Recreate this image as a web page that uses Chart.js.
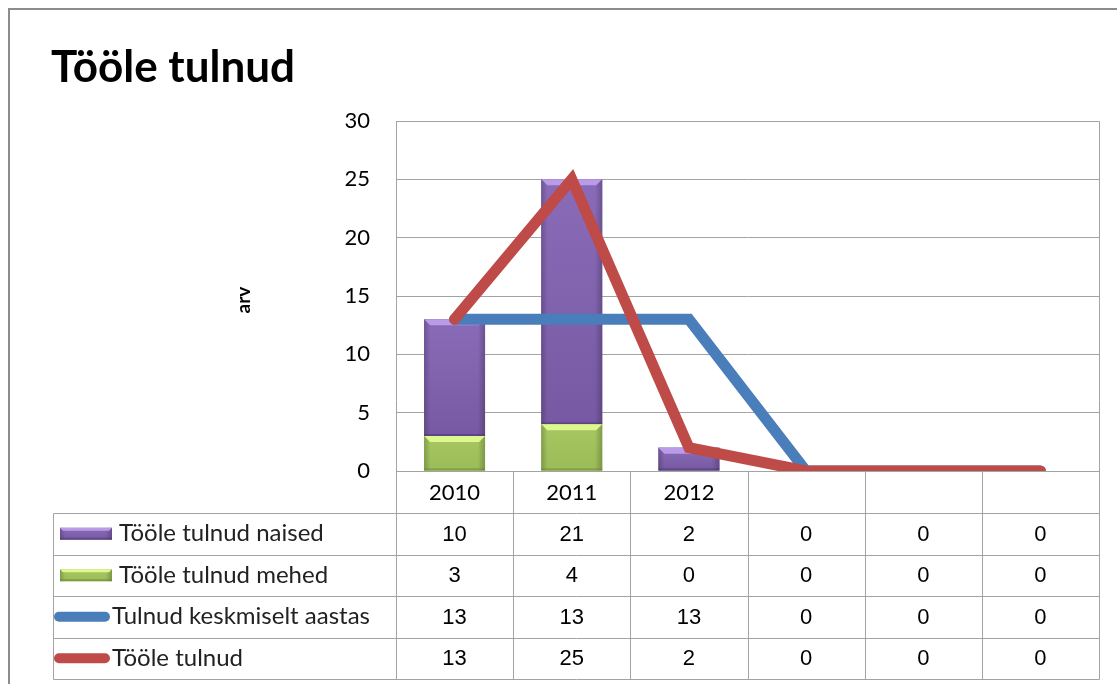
<!DOCTYPE html>
<html lang="et">
  <head>
    <meta charset="UTF-8" />
    <title>Tööle tulnud</title>
    <style>
      html, body { margin: 0; padding: 0; background: #fff; }
    </style>
  </head>
  <body>
    <canvas id="myChart" width="1117" height="684"></canvas>

    <script src="https://cdn.jsdelivr.net/npm/chart.js"></script>

    <script>
      // data
      const years = ["2010", "2011", "2012", "", "", ""];
      const naised = [10, 21, 2, 0, 0, 0];
      const mehed = [3, 4, 0, 0, 0, 0];
      const keskmiselt = [13, 13, 13, 0, 0, 0];
      const tulnud = [13, 25, 2, 0, 0, 0];
      const yMax = 30;
      const yStep = 5;

      const FONT = "Lato, 'Open Sans', sans-serif";
      const gridColor = "#a3a3a3";

      const lookNaised = { fill: "#7659a2", top: "#8a6bb8", light: "#b99be8", dark: "#4f3a70" };
      const lookMehed = { fill: "#9bbb59", top: "#a6c760", light: "#dcf88e", dark: "#6a8a33" };

      // rows of the data table, in the order shown
      const tableRows = [
        { label: "Tööle tulnud naised", values: naised, key: "bar", look: lookNaised },
        { label: "Tööle tulnud mehed", values: mehed, key: "bar", look: lookMehed },
        { label: "Tulnud keskmiselt aastas", values: keskmiselt, key: "line", color: "#4a7ebb" },
        { label: "Tööle tulnud", values: tulnud, key: "line", color: "#be4b48" },
      ];

      // draws a bar with a little excel style bevel
      function bevelBar(ctx, x1, x2, y1, y2, c, bev) {
        const h = y2 - y1;
        if (h <= 0.5) return;
        const b = Math.min(bev, h / 3);
        const body = ctx.createLinearGradient(0, y1, 0, y2);
        body.addColorStop(0, c.top);
        body.addColorStop(1, c.fill);
        ctx.fillStyle = body;
        ctx.fillRect(x1, y1, x2 - x1, h);
        const g = ctx.createLinearGradient(x1, 0, x2, 0);
        g.addColorStop(0, "rgba(0,0,0,0.2)");
        g.addColorStop(0.1, "rgba(0,0,0,0.0)");
        g.addColorStop(0.88, "rgba(0,0,0,0.0)");
        g.addColorStop(1, "rgba(0,0,0,0.22)");
        ctx.fillStyle = g;
        ctx.fillRect(x1, y1, x2 - x1, h);
        // top bevel
        ctx.fillStyle = c.light;
        ctx.beginPath();
        ctx.moveTo(x1, y1);
        ctx.lineTo(x2, y1);
        ctx.lineTo(x2 - b, y1 + b);
        ctx.lineTo(x1 + b, y1 + b);
        ctx.closePath();
        ctx.fill();
        // bottom edge
        ctx.fillStyle = c.dark;
        ctx.globalAlpha = 0.6;
        ctx.fillRect(x1, y2 - 2, x2 - x1, 2);
        ctx.globalAlpha = 1;
      }

      const barLook = {
        id: "barLook",
        afterDatasetDraw(chart, args) {
          const ds = chart.data.datasets[args.index];
          if (!ds.look) return;
          const ctx = chart.ctx;
          ctx.save();
          args.meta.data.forEach((el) => {
            const { x, y, base, width } = el.getProps(["x", "y", "base", "width"], true);
            bevelBar(ctx, x - width / 2, x + width / 2, Math.min(y, base), Math.max(y, base), ds.look, 6);
          });
          ctx.restore();
        },
      };

      const frameAndTable = {
        id: "frameAndTable",
        beforeDraw(chart) {
          const { ctx } = chart;
          ctx.save();
          ctx.strokeStyle = "#8c8c8c";
          ctx.lineWidth = 2;
          ctx.strokeRect(9, 9, 1200, 800);
          ctx.restore();
        },
        afterDraw(chart) {
          const {
            ctx,
            chartArea: { left, right, top, bottom },
            scales: { x },
          } = chart;
          const n = years.length;
          const colW = (right - left) / n;
          const headBottom = bottom + 42;
          const rowH = 41.5;
          const tabLeft = 53;
          const tabBottom = headBottom + rowH * tableRows.length;

          ctx.save();
          // title
          ctx.fillStyle = "#000";
          ctx.font = `bold 44px ${FONT}`;
          ctx.textAlign = "left";
          ctx.textBaseline = "alphabetic";
          ctx.fillText("Tööle tulnud", 51, 82);

          // y axis title
          ctx.save();
          ctx.translate(244, 300);
          ctx.rotate(-Math.PI / 2);
          ctx.font = `bold 19px ${FONT}`;
          ctx.textAlign = "center";
          ctx.textBaseline = "middle";
          ctx.fillText("arv", 0, 0);
          ctx.restore();

          // grid of the table and plot border
          ctx.strokeStyle = gridColor;
          ctx.lineWidth = 1;
          const px = (v) => Math.round(v) + 0.5;
          ctx.beginPath();
          ctx.moveTo(px(left), px(top));
          ctx.lineTo(px(left), px(tabBottom));
          ctx.moveTo(px(right), px(top));
          ctx.lineTo(px(right), px(tabBottom));
          ctx.moveTo(px(left), px(top));
          ctx.lineTo(px(right), px(top));
          ctx.moveTo(px(left), px(bottom));
          ctx.lineTo(px(right), px(bottom));
          for (let i = 1; i < n; i++) {
            const cx = left + colW * i;
            ctx.moveTo(px(cx), px(bottom));
            ctx.lineTo(px(cx), px(tabBottom));
          }
          for (let r = 0; r <= tableRows.length; r++) {
            const ry = headBottom + rowH * r;
            ctx.moveTo(px(tabLeft), px(ry));
            ctx.lineTo(px(right), px(ry));
          }
          ctx.moveTo(px(tabLeft), px(headBottom));
          ctx.lineTo(px(tabLeft), px(tabBottom));
          ctx.stroke();

          // header: categories
          ctx.fillStyle = "#000";
          ctx.font = `22px ${FONT}`;
          ctx.textAlign = "center";
          ctx.textBaseline = "middle";
          years.forEach((yr, i) => {
            ctx.fillText(yr, x.getPixelForValue(i), bottom + 22);
          });

          // rows
          tableRows.forEach((row, r) => {
            const cy = headBottom + rowH * r + rowH / 2;
            if (row.key === "bar") {
              bevelBar(ctx, 60, 112, cy - 6, cy + 6, row.look, 3);
            } else {
              ctx.strokeStyle = row.color;
              ctx.lineWidth = 10;
              ctx.lineCap = "round";
              ctx.beginPath();
              ctx.moveTo(59, cy);
              ctx.lineTo(105, cy);
              ctx.stroke();
            }
            ctx.fillStyle = "#222";
            ctx.font = `24px ${FONT}`;
            ctx.textAlign = "left";
            ctx.fillText(row.label, row.key === "bar" ? 119 : 112, cy);
            ctx.fillStyle = "#000";
            ctx.font = "22px 'Liberation Sans', Arial, sans-serif";
            ctx.textAlign = "center";
            row.values.forEach((v, i) => {
              ctx.fillText(String(v), x.getPixelForValue(i), cy + 1);
            });
          });
          ctx.restore();
        },
      };

      const ctx = document.getElementById("myChart").getContext("2d");

      new Chart(ctx, {
        type: "bar",
        data: {
          labels: years,
          datasets: [
            {
              type: "line",
              label: "Tööle tulnud",
              data: tulnud,
              borderColor: "#be4b48",
              borderWidth: 11,
              borderCapStyle: "round",
              borderJoinStyle: "miter",
              pointRadius: 0,
              tension: 0,
              stack: "total",
              order: 0,
            },
            {
              type: "line",
              label: "Tulnud keskmiselt aastas",
              data: keskmiselt,
              borderColor: "#4a7ebb",
              borderWidth: 11,
              borderCapStyle: "round",
              borderJoinStyle: "miter",
              pointRadius: 0,
              tension: 0,
              stack: "avg",
              order: 1,
            },
            {
              label: "Tööle tulnud mehed",
              data: mehed,
              backgroundColor: "#9bbb59",
              look: lookMehed,
              stack: "bars",
              barPercentage: 0.52,
              categoryPercentage: 1,
              order: 2,
            },
            {
              label: "Tööle tulnud naised",
              data: naised,
              backgroundColor: "#7659a2",
              look: lookNaised,
              stack: "bars",
              barPercentage: 0.52,
              categoryPercentage: 1,
              order: 2,
            },
          ],
        },
        options: {
          responsive: false,
          animation: false,
          layout: { padding: { left: 336, top: 121, right: 18, bottom: 213 } },
          plugins: {
            legend: { display: false },
            tooltip: { enabled: false },
          },
          scales: {
            x: { display: false, stacked: true, offset: true },
            y: {
              stacked: true,
              min: 0,
              max: yMax,
              ticks: { stepSize: yStep, padding: 26, color: "#000", font: { family: FONT, size: 22 } },
              grid: { color: gridColor, drawTicks: false },
              border: { display: false },
              afterFit(scale) {
                scale.width = 60;
              },
            },
          },
        },
        plugins: [barLook, frameAndTable],
      });
    </script>
  </body>
</html>
